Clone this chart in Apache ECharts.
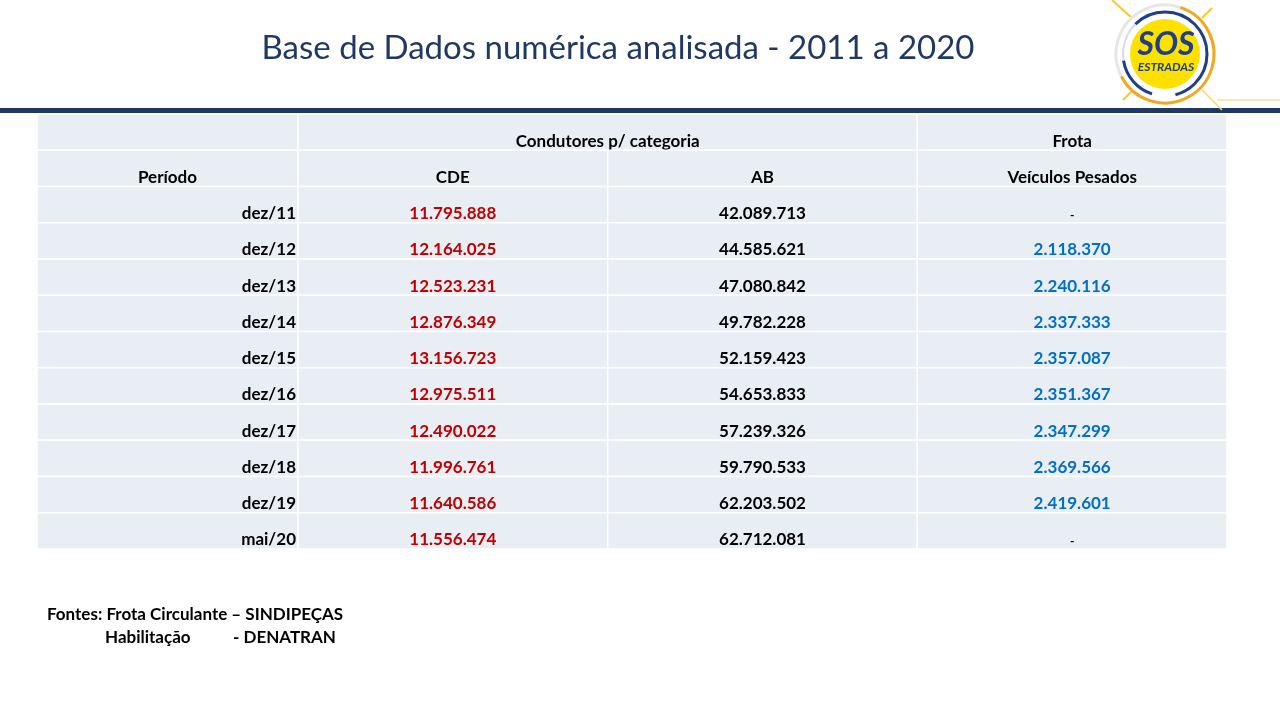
<!DOCTYPE html>
<html>
<head>
<meta charset="utf-8">
<script src="https://cdn.jsdelivr.net/npm/echarts@6/dist/echarts.min.js"></script>
<style>
  html, body { margin: 0; padding: 0; background: #fff; }
  #chart { width: 1280px; height: 720px; }
</style>
</head>
<body>
<div id="chart"></div>
<script>
// dados da tabela
const periodos = ["dez/11", "dez/12", "dez/13", "dez/14", "dez/15", "dez/16", "dez/17", "dez/18", "dez/19", "mai/20"];
const cde = [11795888, 12164025, 12523231, 12876349, 13156723, 12975511, 12490022, 11996761, 11640586, 11556474];
const ab = [42089713, 44585621, 47080842, 49782228, 52159423, 54653833, 57239326, 59790533, 62203502, 62712081];
const frota = [null, 2118370, 2240116, 2337333, 2357087, 2351367, 2347299, 2369566, 2419601, null];
const colunas = ["CDE", "AB", "Veículos Pesados"];
const grupos = ["Condutores p/ categoria", "Frota"];

const FONT = "Lato";
const CELL = "#E9EDF4";
const COR_CDE = "#C00000";
const COR_FROTA = "#0070C0";
const NAVY = "#1F3864";
const LOGO_AZUL = "#1F3F86";

function fmt(v) {
  return String(v).replace(/\B(?=(\d{3})+(?!\d))/g, ".");
}

// linhas do eixo y: 2 de cabeçalho + períodos
const linhas = ["h1", "h2"].concat(periodos);

// células da coluna "Período"
let cellsPeriodo = [
  { col: 0, row: 0, text: "" },
  { col: 0, row: 1, text: "Período" }
];
periodos.forEach((p, i) => {
  cellsPeriodo.push({ col: 0, row: i + 2, text: p, align: "right" });
});

// células das colunas de valores
let cellsValores = [
  { col: 0, row: 0, span: 2, text: grupos[0] },
  { col: 2, row: 0, text: grupos[1] }
];
colunas.forEach((c, j) => {
  cellsValores.push({ col: j, row: 1, text: c });
});
periodos.forEach((p, i) => {
  cellsValores.push({ col: 0, row: i + 2, text: fmt(cde[i]), color: COR_CDE });
  cellsValores.push({ col: 1, row: i + 2, text: fmt(ab[i]) });
  if (frota[i] == null) {
    cellsValores.push({ col: 2, row: i + 2, text: "-", small: true });
  } else {
    cellsValores.push({ col: 2, row: i + 2, text: fmt(frota[i]), color: COR_FROTA });
  }
});

function makeRender(cells) {
  return function (params, api) {
    const c = cells[params.dataIndex];
    const center = api.coord([api.value(0), api.value(1)]);
    const size = api.size([1, 1]);
    const span = c.span || 1;
    const x = center[0] - size[0] / 2;
    const y = center[1] - size[1] / 2;
    const w = size[0] * span;
    const h = size[1];
    let tx = x + w / 2;
    let align = "center";
    if (c.align === "right") {
      tx = x + w - 2;
      align = "right";
    }
    return {
      type: "group",
      children: [
        {
          type: "rect",
          shape: { x: x, y: y, width: w, height: h },
          style: { fill: CELL, stroke: "#fff", lineWidth: 1.5 }
        },
        {
          type: "text",
          style: {
            text: c.text,
            x: tx,
            y: y + h - (c.small ? 8 : 9),
            align: align,
            verticalAlign: "middle",
            fill: c.color || "#000",
            font: "bold " + (c.small ? 12 : 17) + "px " + FONT
          }
        }
      ]
    };
  };
}

var myChart = echarts.init(document.getElementById("chart"), null, { renderer: "canvas" });

var option = {
  animation: false,
  grid: [
    { left: 37, top: 114, width: 261, height: 435 },
    { left: 298, top: 114, width: 929, height: 435 }
  ],
  xAxis: [
    { type: "category", gridIndex: 0, data: ["Período"], show: false },
    { type: "category", gridIndex: 1, data: colunas, show: false }
  ],
  yAxis: [
    { type: "category", gridIndex: 0, data: linhas, inverse: true, show: false },
    { type: "category", gridIndex: 1, data: linhas, inverse: true, show: false }
  ],
  series: [
    {
      type: "custom",
      xAxisIndex: 0,
      yAxisIndex: 0,
      renderItem: makeRender(cellsPeriodo),
      data: cellsPeriodo.map(c => [c.col, c.row]),
      encode: { x: 0, y: 1 },
      clip: false
    },
    {
      type: "custom",
      xAxisIndex: 1,
      yAxisIndex: 1,
      renderItem: makeRender(cellsValores),
      data: cellsValores.map(c => [c.col, c.row]),
      encode: { x: 0, y: 1 },
      clip: false
    }
  ],
  graphic: [
    // título
    {
      type: "text",
      x: 618,
      y: 32,
      style: {
        text: "Base de Dados numérica analisada - 2011 a 2020",
        align: "center",
        verticalAlign: "top",
        font: "33px " + FONT,
        fill: NAVY
      }
    },
    // faixa azul
    {
      type: "rect",
      shape: { x: 0, y: 108, width: 1280, height: 5 },
      style: { fill: NAVY }
    },
    // linha fina do logo
    {
      type: "line",
      shape: { x1: 1217, y1: 100, x2: 1280, y2: 100 },
      style: { stroke: "#F8D56A", lineWidth: 1 }
    },
    // raios do logo
    { type: "line", shape: { x1: 1112, y1: 0, x2: 1132, y2: 18 }, style: { stroke: "#F8C82A", lineWidth: 2 } },
    { type: "line", shape: { x1: 1212, y1: 8, x2: 1202, y2: 18 }, style: { stroke: "#F8C82A", lineWidth: 2 } },
    { type: "line", shape: { x1: 1123, y1: 100, x2: 1133, y2: 90 }, style: { stroke: "#F8C82A", lineWidth: 2 } },
    { type: "line", shape: { x1: 1202, y1: 90, x2: 1222, y2: 110 }, style: { stroke: "#F8D56A", lineWidth: 1.5 } },
    // anel externo
    {
      type: "arc",
      shape: { cx: 1165, cy: 54, r: 49, startAngle: -Math.PI * 0.4, endAngle: Math.PI * 0.85 },
      style: { stroke: "#F2A81E", lineWidth: 3, fill: null }
    },
    {
      type: "arc",
      shape: { cx: 1165, cy: 54, r: 49, startAngle: Math.PI * 0.85, endAngle: Math.PI * 1.6 },
      style: { stroke: "#E6E6E6", lineWidth: 3, fill: null }
    },
    // anel azul
    {
      type: "arc",
      shape: { cx: 1165, cy: 54, r: 42, startAngle: -Math.PI * 0.75, endAngle: Math.PI * 0.42 },
      style: { stroke: LOGO_AZUL, lineWidth: 3, fill: null }
    },
    {
      type: "arc",
      shape: { cx: 1165, cy: 54, r: 42, startAngle: Math.PI * 0.6, endAngle: Math.PI * 0.95 },
      style: { stroke: LOGO_AZUL, lineWidth: 3, fill: null }
    },
    {
      type: "arc",
      shape: { cx: 1165, cy: 54, r: 42, startAngle: Math.PI * 0.95, endAngle: Math.PI * 1.25 },
      style: { stroke: "#D8DCE6", lineWidth: 2, fill: null }
    },
    // círculo amarelo
    {
      type: "circle",
      shape: { cx: 1165, cy: 54, r: 35 },
      style: { fill: "#FFE100" }
    },
    {
      type: "text",
      x: 1166,
      y: 45,
      style: {
        text: "SOS",
        align: "center",
        verticalAlign: "middle",
        font: "italic bold 32px " + FONT,
        fill: LOGO_AZUL
      }
    },
    {
      type: "text",
      x: 1166,
      y: 67,
      style: {
        text: "ESTRADAS",
        align: "center",
        verticalAlign: "middle",
        font: "italic bold 12px " + FONT,
        fill: LOGO_AZUL
      }
    },
    // fontes
    {
      type: "text",
      left: 47,
      top: 606,
      style: {
        text: "Fontes: Frota Circulante – SINDIPEÇAS",
        font: "bold 17px " + FONT,
        fill: "#000"
      }
    },
    {
      type: "text",
      left: 105,
      top: 629,
      style: { text: "Habilitação", font: "bold 17px " + FONT, fill: "#000" }
    },
    {
      type: "text",
      left: 233,
      top: 629,
      style: { text: "- DENATRAN", font: "bold 17px " + FONT, fill: "#000" }
    }
  ]
};

myChart.setOption(option);
</script>
</body>
</html>
